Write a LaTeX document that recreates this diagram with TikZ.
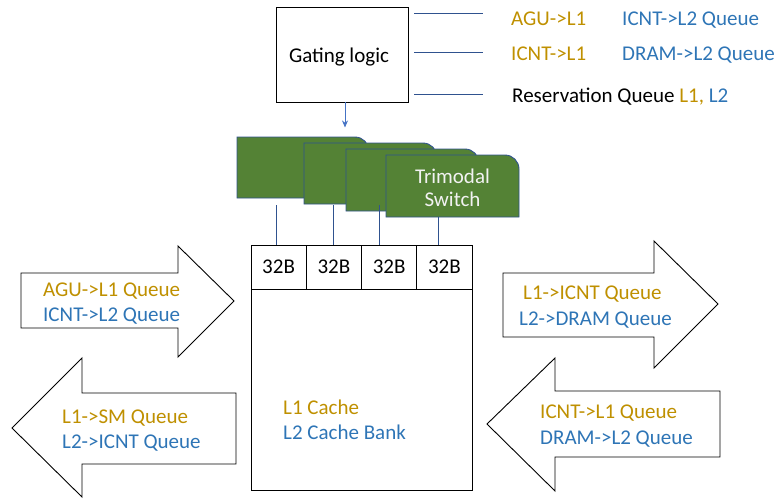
\documentclass[tikz,border=0pt]{standalone}
\usepackage{fontspec}
\setmainfont{Carlito}
\usetikzlibrary{arrows.meta}
\definecolor{gold}{HTML}{BF9000}
\definecolor{qblue}{HTML}{2E75B6}
\definecolor{wire}{HTML}{2F528F}
\definecolor{leaf}{HTML}{548235}
\definecolor{ptr}{HTML}{4472C4}

% switch panel: left, top, right, bottom; only the top right corner is rounded
\newcommand\switchshape[4]{%
  \path[switchbox] (#1,#4) -- (#1,#2) -- ({#3-14},#2)
    .. controls ({#3-6.3},#2) and (#3,{#2+6.3}) .. (#3,{#2+14})
    -- (#3,#4) -- cycle;}

\begin{document}
\begin{tikzpicture}[x=1pt,y=-1pt,
  every node/.style={font=\fontsize{21}{25}\selectfont, inner sep=0pt},
  lbl/.style={anchor=base west},
  blockarrow/.style={draw=black, fill=white, line width=0.9pt, line join=miter},
  switchbox/.style={draw=wire, fill=leaf, line width=0.9pt},
  wireline/.style={draw=wire, line width=0.9pt},
  plainbox/.style={draw=black, line width=0.9pt},
  cell/.style={plainbox, minimum width=55.25pt, minimum height=44pt},
]
\useasboundingbox (0,0) rectangle (781,498);

% gating logic block and its control lines
\node[plainbox, minimum width=132pt, minimum height=95pt] (gate) at (342,54.5) {};
\node (gtxt) at (339,57) {Gating logic};
\draw[ptr, line width=0.8pt, -{Stealth[length=7pt,width=6pt]}] ([xshift=3pt]gate.south) -- ++(0,25);

\coordinate (g1) at (414,13);
\coordinate (g2) at (414,52);
\coordinate (g3) at (414,94);
\draw[wireline] (g1) -- ++(69,0);
\draw[wireline] (g2) -- ++(69,0);
\draw[wireline] (g3) -- ++(69,0);

\node[lbl, text=gold]  (t1a) at (511,25) {AGU->L1};
\node[lbl, text=qblue] (t1b) at (622,25) {ICNT->L2 Queue};
\node[lbl, text=gold]  (t2a) at (511,60) {ICNT->L1};
\node[lbl, text=qblue] (t2b) at (622,60) {DRAM->L2 Queue};
\node[lbl] (t3) at (512,102) {Reservation Queue \textcolor{gold}{L1,} \textcolor{qblue}{L2}};

% stacked trimodal switches
\switchshape{237}{137}{369}{198}
\switchshape{304}{143}{437}{204}
\switchshape{346}{149}{479}{211}
\switchshape{386}{155}{519}{217}
\node[text=white!95!black, align=center, font=\fontsize{21}{23}\selectfont] (tri) at (452.5,188) {Trimodal\\Switch};

% cache bank with four 32B sectors
\node[plainbox, minimum width=221pt, minimum height=245pt] (cache) at (361.5,367.5) {};
\node[cell] (c1) at (278.6,267) {32B};
\node[cell] (c2) at (333.9,267) {32B};
\node[cell] (c3) at (389.1,267) {32B};
\node[cell] (c4) at (444.4,267) {32B};

\coordinate (w1) at (276,205);
\coordinate (w2) at (333,205);
\coordinate (w3) at (379,205);
\coordinate (w4) at (438,217);
\draw[wireline] (w1) -- (w1 |- c1.north);
\draw[wireline] (w2) -- (w2 |- c2.north);
\draw[wireline] (w3) -- (w3 |- c3.north);
\draw[wireline] (w4) -- (w4 |- c4.north);

\node[lbl, text=gold]  (l1c) at (283,414) {L1 Cache};
\node[lbl, text=qblue] (l2c) at (283,439) {L2 Cache Bank};

% block arrows for the queues
\path[blockarrow] (21,273) -- (178,273) -- (178,246) -- (234,301) -- (178,357) -- (178,328) -- (21,328) -- cycle;
\path[blockarrow] (236,393) -- (82,393) -- (82,358) -- (12,428) -- (82,497) -- (82,464) -- (236,464) -- cycle;
\path[blockarrow] (503,273) -- (654,273) -- (654,241) -- (718,304) -- (654,368) -- (654,337) -- (503,337) -- cycle;
\path[blockarrow] (720,391) -- (555,391) -- (555,358) -- (487,424) -- (555,491) -- (555,457) -- (720,457) -- cycle;

\node[lbl, text=gold]  (a1a) at (43,296)  {AGU->L1 Queue};
\node[lbl, text=qblue] (a1b) at (43,321)  {ICNT->L2 Queue};
\node[lbl, text=gold]  (a2a) at (62,423)  {L1->SM Queue};
\node[lbl, text=qblue] (a2b) at (62,448)  {L2->ICNT Queue};
\node[lbl, text=gold]  (a3a) at (523,299) {L1->ICNT Queue};
\node[lbl, text=qblue] (a3b) at (519,325) {L2->DRAM Queue};
\node[lbl, text=gold]  (a4a) at (540,418) {ICNT->L1 Queue};
\node[lbl, text=qblue] (a4b) at (540,444) {DRAM->L2 Queue};
\end{tikzpicture}
\end{document}
